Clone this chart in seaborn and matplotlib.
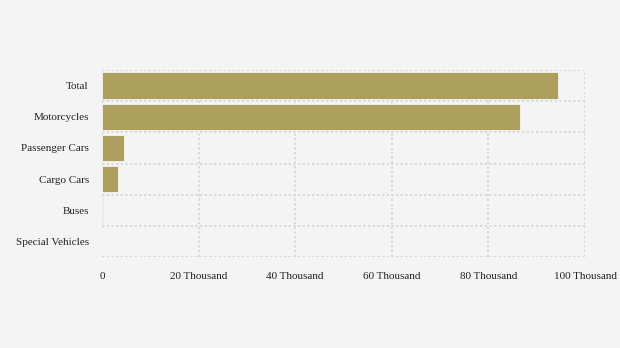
import matplotlib
matplotlib.use("Agg")
import matplotlib.pyplot as plt
import seaborn as sns
import pandas as pd

categories = ["Total", "Motorcycles", "Passenger Cars", "Cargo Cars", "Buses", "Special Vehicles"]
values = [94400, 86600, 4600, 3400, 120, 60]
tick_values = [0, 20000, 40000, 60000, 80000, 100000]
tick_labels = ["0", "20 Thousand", "40 Thousand", "60 Thousand", "80 Thousand", "100 Thousand"]

df = pd.DataFrame({"category": categories, "value": values})

sns.set_theme(style="white")
plt.rcParams["font.family"] = ["Liberation Serif", "DejaVu Serif"]

bg = "#f4f4f4"
fig = plt.figure(figsize=(6.2, 3.48), dpi=100, facecolor=bg)
ax = fig.add_axes([102 / 620, 1 - 257 / 348, 483 / 620, 187 / 348])
ax.set_facecolor(bg)

sns.barplot(data=df, x="value", y="category", orient="h", color="#ad9f5e",
            saturation=1, width=0.84, edgecolor="#f4f4f4", linewidth=0.6, ax=ax, zorder=3)

ax.set_xlim(0, 100000)
ax.set_ylim(len(categories) - 0.5, -0.5)
ax.set_xticks(tick_values)
ax.set_xticklabels(tick_labels)

# gridlines: vertical at ticks, horizontal between categories
grid_kw = dict(color="#dadada", linestyle=(0, (1.2, 1.2)), linewidth=1.4, zorder=1)
for v in tick_values:
    ax.axvline(v, **grid_kw)
for b in [i - 0.5 for i in range(len(categories) + 1)]:
    ax.axhline(b, **grid_kw)

for s in ax.spines.values():
    s.set_visible(False)

ax.tick_params(axis="x", length=0, pad=11, labelsize=8, colors="#222222")
ax.tick_params(axis="y", length=4, width=1.0, pad=5.5, labelsize=8, colors="#222222")
for t in ax.get_yticklines():
    t.set_color("#d6d6d6")
ax.set_xlabel("")
ax.set_ylabel("")

fig.savefig("out.png", dpi=100, facecolor=bg)
